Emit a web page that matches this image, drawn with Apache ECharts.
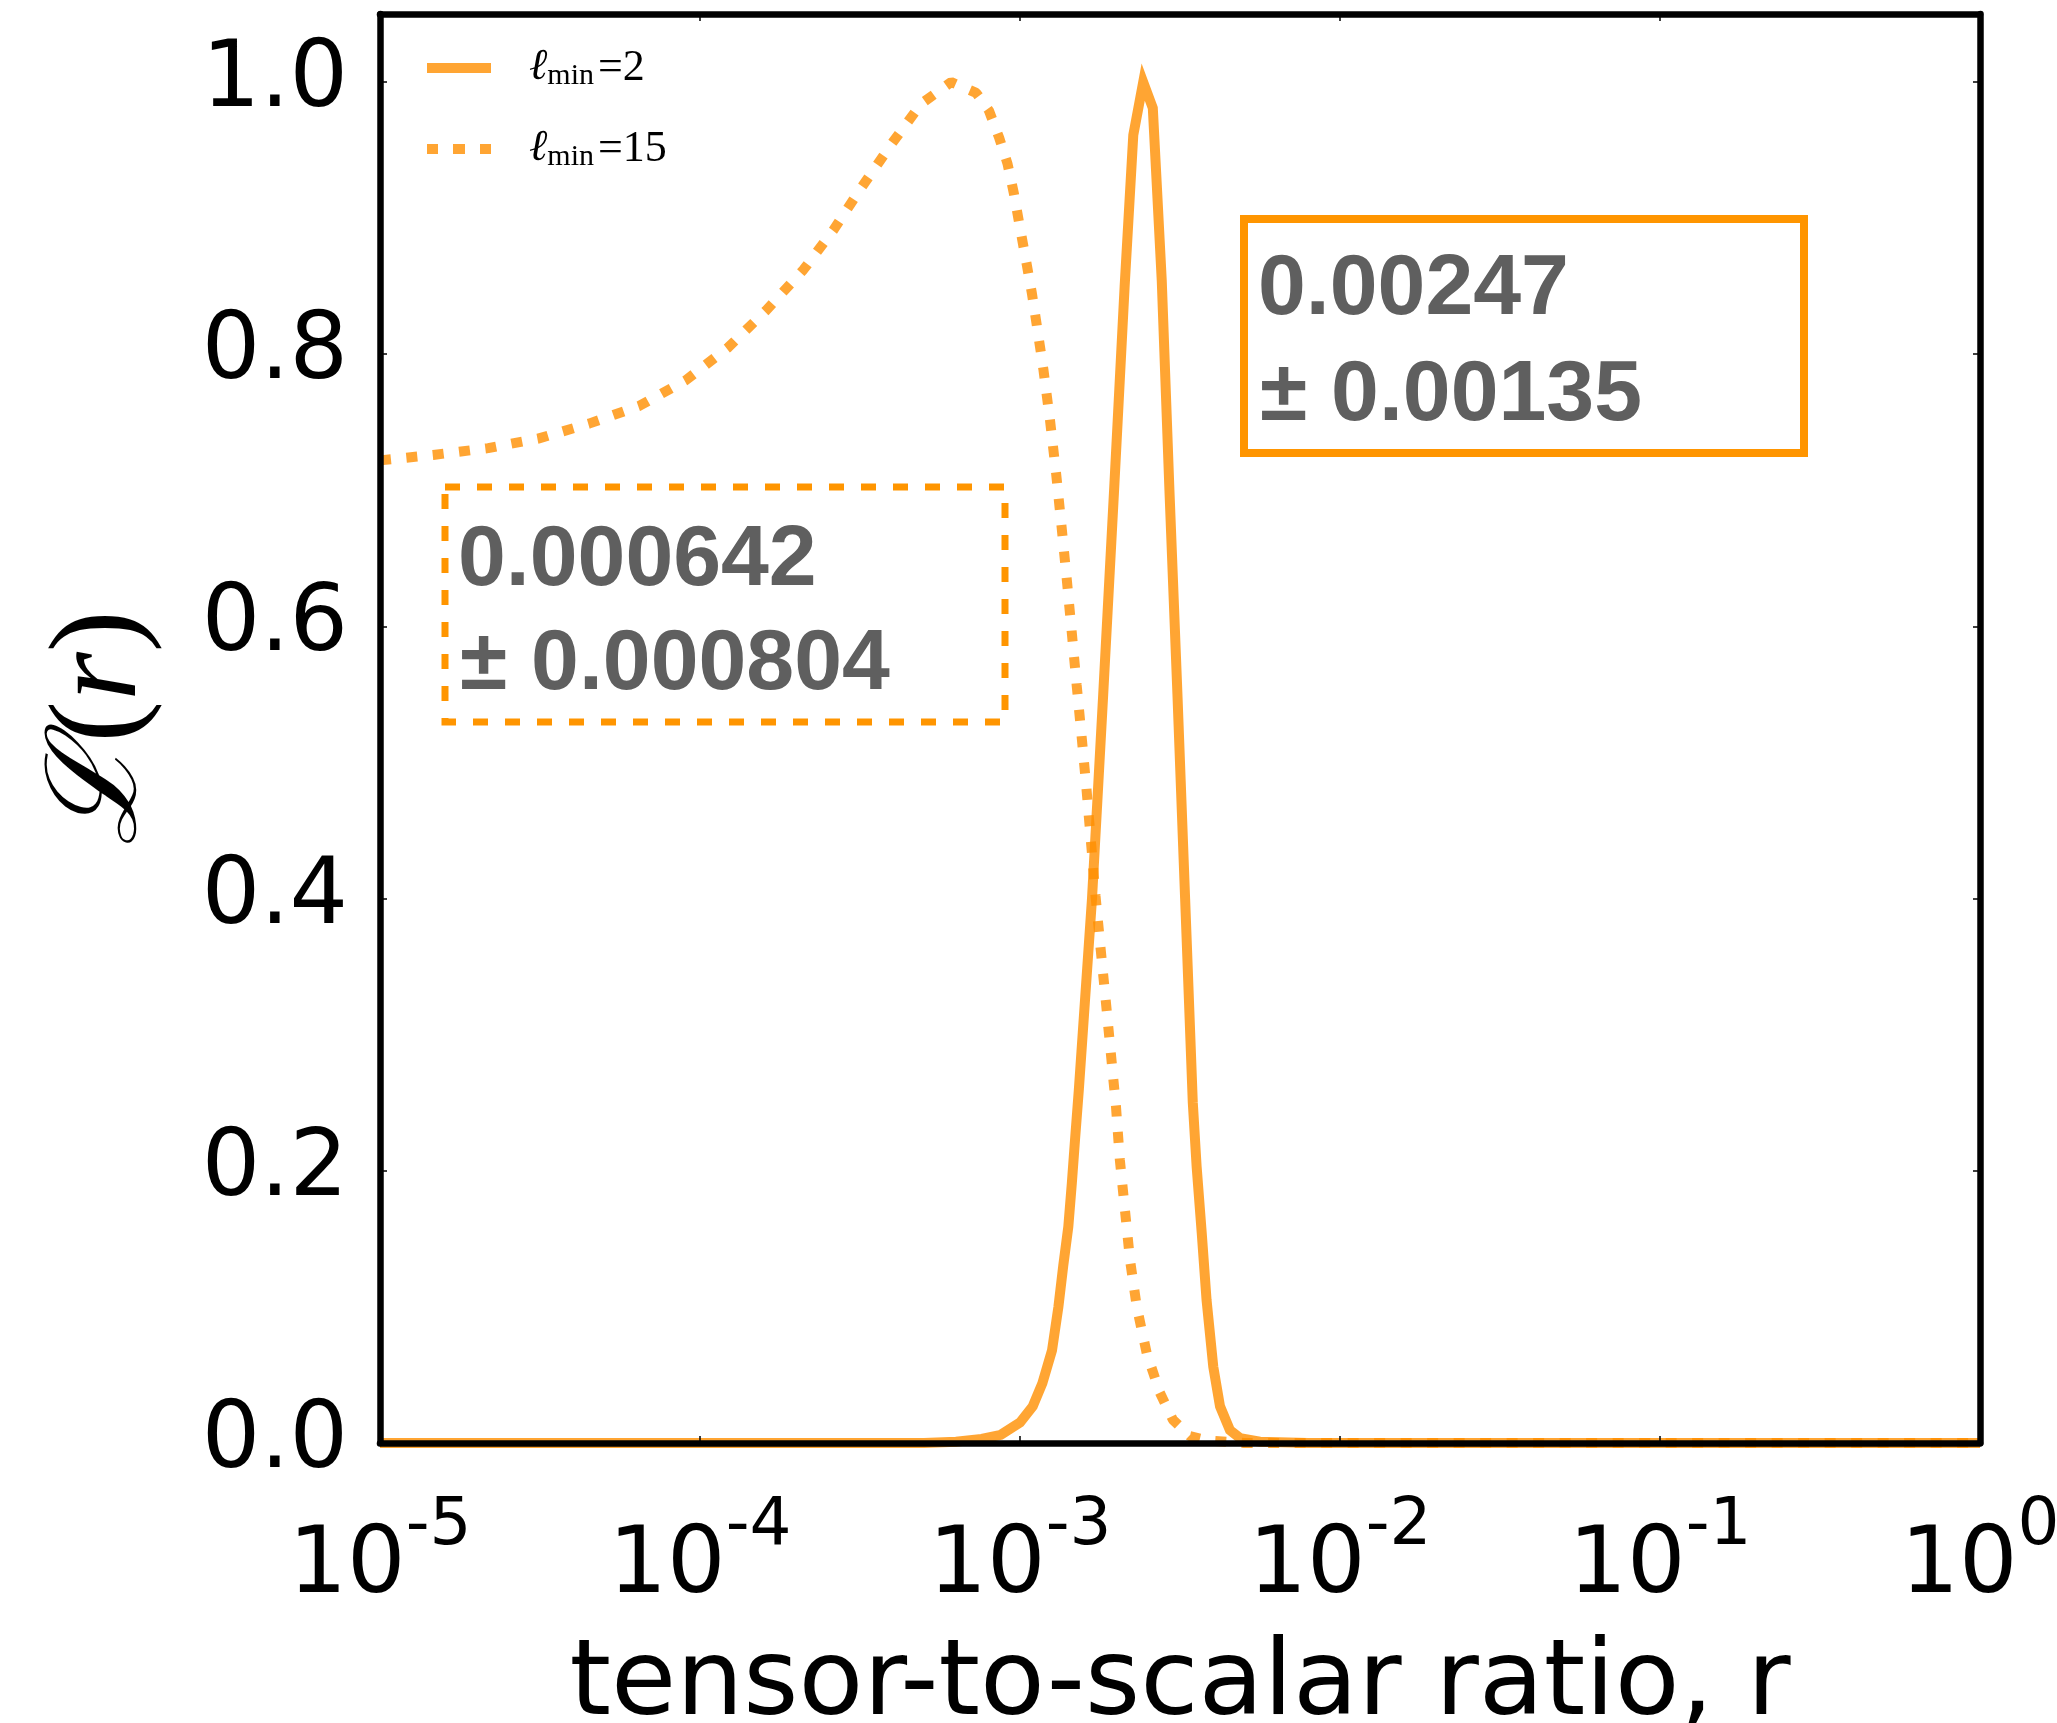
<!DOCTYPE html>
<html><head><meta charset="utf-8">
<script src="https://cdn.jsdelivr.net/npm/echarts@6/dist/echarts.min.js"></script>
<style>html,body{margin:0;padding:0;background:#fff}#c{width:2057px;height:1723px}</style>
</head><body><div id="c"></div>
<script>
// ---- data ----
const seriesNames = ['ℓmin=2', 'ℓmin=15'];
const yTickValues = [0, 0.2, 0.4, 0.6, 0.8, 1.0];
const xTickExponents = [-5, -4, -3, -2, -1, 0];

// l_min = 2 (solid): log10(r) and likelihood
const lmin2LogR = [-5, -4, -3.5, -3.3, -3.2, -3.12, -3.06, -3.0, -2.96, -2.93, -2.90, -2.88, -2.865, -2.849, -2.838, -2.828, -2.816, -2.775, -2.74, -2.706, -2.673, -2.646, -2.615, -2.585, -2.557, -2.533, -2.508, -2.484, -2.46, -2.448, -2.432, -2.417, -2.396, -2.375, -2.344, -2.312, -2.25, -2.1, -1, 0];
const lmin2L    = [0, 0, 0, 0, 0.001, 0.003, 0.006, 0.015, 0.027, 0.044, 0.068, 0.100, 0.130, 0.159, 0.191, 0.223, 0.26, 0.40, 0.55, 0.70, 0.85, 0.961, 1.0, 0.981, 0.854, 0.70, 0.55, 0.40, 0.25, 0.203, 0.154, 0.105, 0.056, 0.027, 0.0095, 0.0035, 0.001, 0, 0, 0];

// l_min = 15 (dotted)
const lmin15LogR = [-5.0, -4.834, -4.662, -4.506, -4.347, -4.19, -4.044, -3.912, -3.794, -3.677, -3.584, -3.494, -3.40, -3.309, -3.215, -3.137, -3.097, -3.065, -3.039, -3.019, -3.0, -2.979, -2.963, -2.948, -2.927, -2.906, -2.887, -2.870, -2.854, -2.838, -2.823, -2.807, -2.792, -2.778, -2.764, -2.748, -2.732, -2.716, -2.700, -2.688, -2.672, -2.656, -2.635, -2.604, -2.563, -2.522, -2.469, -2.416, -2.3, -1, 0];
const lmin15L    = [0.722, 0.726, 0.731, 0.738, 0.749, 0.762, 0.781, 0.805, 0.832, 0.862, 0.891, 0.923, 0.955, 0.984, 1.0, 0.992, 0.979, 0.959, 0.940, 0.918, 0.893, 0.866, 0.845, 0.822, 0.789, 0.751, 0.712, 0.673, 0.635, 0.595, 0.557, 0.518, 0.480, 0.441, 0.402, 0.363, 0.325, 0.286, 0.247, 0.208, 0.171, 0.134, 0.100, 0.066, 0.037, 0.017, 0.005, 0.002, 0, 0, 0];

const boxSolidText = ['0.00247', '± 0.00135'];
const boxDashedText = ['0.000642', '± 0.000804'];

// ---- chart ----
const lineColor = 'rgba(255,143,0,0.8)';
const boxColor = '#ff9500';
const textGray = '#5f5f5f';

function pairs(logs, vals) { return logs.map((v, i) => [Math.pow(10, v), vals[i]]); }

const chart = echarts.init(document.getElementById('c'), null, {renderer: 'canvas'});

const frameLine = {show: true, onZero: false, lineStyle: {color: '#000', width: 6.5}};
const tickStyle = {show: true, inside: true, length: 7, lineStyle: {color: '#000', width: 1.5}};

const xLabel = {
  show: true, margin: 28,
  formatter: v => '{b|10}{s|' + Math.round(Math.log10(v)) + '}',
  showMinLabel: true, showMaxLabel: true,
  rich: {
    b: {fontSize: 92, fontFamily: 'DejaVu Sans', color: '#000', lineHeight: 143, verticalAlign: 'bottom'},
    s: {fontSize: 66, fontFamily: 'DejaVu Sans', color: '#000', verticalAlign: 'top', padding: [23, 0, 0, 0]}
  }
};

const legendFmt = name => {
  const val = name.split('=')[1];
  return '{l|ℓ}{s|min}{e|=' + val + '}';
};

chart.setOption({
  animation: false,
  backgroundColor: '#fff',
  grid: {left: 380, right: 77, top: 14, bottom: 280, containLabel: false, outerBoundsMode: 'none'},
  legend: {
    data: [
      {name: seriesNames[0], icon: 'path://M0,0H64V10H0Z'},
      {name: seriesNames[1], icon: 'path://M0,0H11V10H0Z M26,0H38V10H26Z M53,0H64V10H53Z'}
    ],
    orient: 'vertical', left: 422, top: 40,
    itemWidth: 64, itemHeight: 10, itemGap: 35,
    formatter: legendFmt,
    textStyle: {
      color: '#000',
      rich: {
        l: {fontSize: 44, fontFamily: 'DejaVu Serif', fontStyle: 'italic', color: '#000', padding: [0, 0, 0, 33], lineHeight: 40},
        s: {fontSize: 30, fontFamily: 'Liberation Serif', color: '#000', padding: [16, 4, 0, 0], lineHeight: 40},
        e: {fontSize: 44, fontFamily: 'Liberation Serif', color: '#000', lineHeight: 40}
      }
    }
  },
  xAxis: [
    {
      type: 'log', logBase: 10, min: Math.pow(10, xTickExponents[0]), max: Math.pow(10, xTickExponents[xTickExponents.length - 1]),
      position: 'bottom', z: 10,
      axisLine: frameLine, axisTick: tickStyle, splitLine: {show: false},
      axisLabel: xLabel,
      name: 'tensor-to-scalar ratio, r', nameLocation: 'middle', nameGap: 190,
      nameTextStyle: {fontSize: 106, fontFamily: 'DejaVu Sans', color: '#000'}
    },
    {
      type: 'log', logBase: 10, min: Math.pow(10, xTickExponents[0]), max: Math.pow(10, xTickExponents[xTickExponents.length - 1]),
      position: 'top', z: 10,
      axisLine: frameLine, axisTick: tickStyle, splitLine: {show: false},
      axisLabel: {show: false}
    }
  ],
  yAxis: [
    {
      type: 'value', min: yTickValues[0], max: 1.05, interval: 0.2,
      position: 'left', z: 10,
      axisLine: frameLine, axisTick: tickStyle, splitLine: {show: false},
      axisLabel: {
        show: true, margin: 32, fontSize: 92, fontFamily: 'DejaVu Sans', color: '#000',
        showMaxLabel: false,
        formatter: v => (yTickValues.some(t => Math.abs(t - v) < 1e-6) ? v.toFixed(1) : '')
      },
      name: '{a|ℒ}{b|(}{c|r}{b|)}', nameLocation: 'middle', nameGap: 215, nameRotate: 90,
      nameTextStyle: {
        color: '#000',
        rich: {
          a: {fontSize: 125, fontFamily: 'DejaVu Serif', fontStyle: 'italic', color: '#000'},
          b: {fontSize: 125, fontFamily: 'Liberation Serif', color: '#000'},
          c: {fontSize: 125, fontFamily: 'Liberation Serif', fontStyle: 'italic', color: '#000'}
        }
      }
    },
    {
      type: 'value', min: yTickValues[0], max: 1.05, interval: 0.2,
      position: 'right', z: 10,
      axisLine: frameLine, axisTick: tickStyle, splitLine: {show: false},
      axisLabel: {show: false}
    }
  ],
  series: [
    {
      name: seriesNames[0], type: 'line', xAxisIndex: 0, yAxisIndex: 0,
      data: pairs(lmin2LogR, lmin2L),
      symbol: 'none', showSymbol: false, smooth: false, clip: true, z: 2,
      lineStyle: {color: lineColor, width: 10, type: 'solid', cap: 'butt', join: 'miter'},
      itemStyle: {color: lineColor}
    },
    {
      name: seriesNames[1], type: 'line', xAxisIndex: 0, yAxisIndex: 0,
      data: pairs(lmin15LogR, lmin15L),
      symbol: 'none', showSymbol: false, smooth: false, clip: true, z: 2,
      lineStyle: {color: lineColor, width: 10, type: [11, 15.5], cap: 'butt'},
      itemStyle: {color: lineColor}
    }
  ],
  graphic: [
    {type: 'rect', z: 20, shape: {x: 1244, y: 219, width: 560, height: 234},
     style: {fill: 'rgba(0,0,0,0)', stroke: boxColor, lineWidth: 8}},
    {type: 'text', z: 21, x: 1258, y: 290,
     style: {text: boxSolidText[0], fontSize: 86, fontWeight: 'bold', fontFamily: 'Liberation Sans', fill: textGray, verticalAlign: 'middle', align: 'left'}},
    {type: 'text', z: 21, x: 1260, y: 396,
     style: {text: boxSolidText[1], fontSize: 86, fontWeight: 'bold', fontFamily: 'Liberation Sans', fill: textGray, verticalAlign: 'middle', align: 'left'}},
    {type: 'rect', z: 20, shape: {x: 445, y: 487, width: 560, height: 235},
     style: {fill: 'rgba(0,0,0,0)', stroke: boxColor, lineWidth: 7, lineDash: [15, 17]}},
    {type: 'text', z: 21, x: 458, y: 561,
     style: {text: boxDashedText[0], fontSize: 86, fontWeight: 'bold', fontFamily: 'Liberation Sans', fill: textGray, verticalAlign: 'middle', align: 'left'}},
    {type: 'text', z: 21, x: 460, y: 665,
     style: {text: boxDashedText[1], fontSize: 86, fontWeight: 'bold', fontFamily: 'Liberation Sans', fill: textGray, verticalAlign: 'middle', align: 'left'}}
  ]
});
</script>
</body></html>
